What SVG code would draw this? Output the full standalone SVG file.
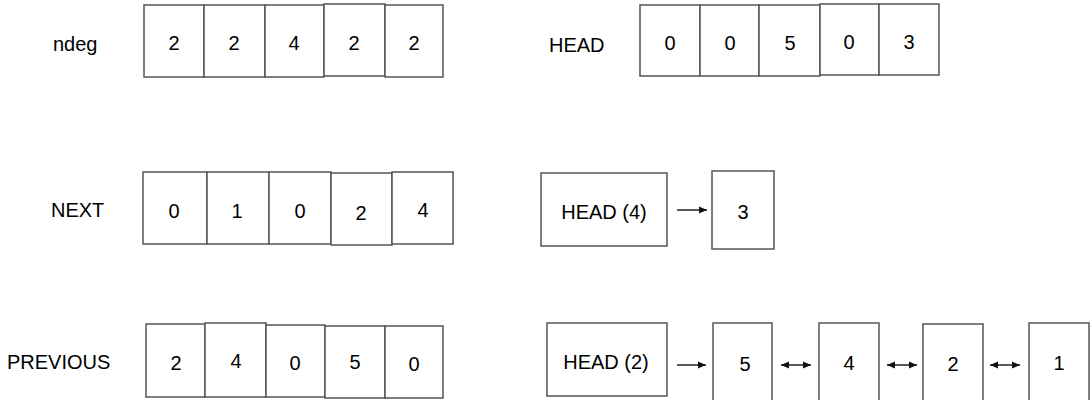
<svg xmlns="http://www.w3.org/2000/svg" width="1091" height="400" viewBox="0 0 1091 400">
<style>
.b{fill:#fff;stroke:#555;stroke-width:1.5}
.t{font-family:"Liberation Sans",Arial,sans-serif;font-size:20px;fill:#000;text-anchor:middle}
.l{font-family:"Liberation Sans",Arial,sans-serif;font-size:20px;fill:#000}
.a{stroke:#111;stroke-width:1.4;fill:none}
</style>
<defs>
<marker id="ah" markerWidth="9" markerHeight="9" refX="8" refY="4.5" orient="auto" markerUnits="userSpaceOnUse"><path d="M0,1 L8,4.5 L0,8 Z" fill="#111"/></marker>
<marker id="as" markerWidth="9" markerHeight="9" refX="1" refY="4.5" orient="auto" markerUnits="userSpaceOnUse"><path d="M9,1 L1,4.5 L9,8 Z" fill="#111"/></marker>
</defs>
<rect width="1091" height="400" fill="#fff"/>

<g id="ndeg">
<text class="l" x="53" y="51">ndeg</text>
<rect class="b" x="144" y="5" width="60" height="72"/><text class="t" x="174" y="50">2</text>
<rect class="b" x="204" y="5" width="61" height="72"/><text class="t" x="234" y="50">2</text>
<rect class="b" x="265" y="5" width="59" height="72"/><text class="t" x="294" y="50">4</text>
<rect class="b" x="324" y="4" width="61" height="72"/><text class="t" x="354" y="50">2</text>
<rect class="b" x="385" y="5" width="58" height="72"/><text class="t" x="414" y="50">2</text>
</g>

<g id="head">
<text class="l" x="549" y="52">HEAD</text>
<rect class="b" x="640" y="5" width="60" height="71"/><text class="t" x="670" y="50">0</text>
<rect class="b" x="700" y="5" width="59" height="71"/><text class="t" x="730" y="50">0</text>
<rect class="b" x="759" y="5" width="61" height="71"/><text class="t" x="790" y="50">5</text>
<rect class="b" x="820" y="4" width="59" height="71"/><text class="t" x="849" y="49">0</text>
<rect class="b" x="879" y="4" width="60" height="71"/><text class="t" x="909" y="49">3</text>
</g>

<g id="next">
<text class="l" x="51" y="217">NEXT</text>
<rect class="b" x="143" y="172" width="64" height="72"/><text class="t" x="174" y="218">0</text>
<rect class="b" x="207" y="172" width="62" height="72"/><text class="t" x="237" y="218">1</text>
<rect class="b" x="269" y="172" width="62" height="72"/><text class="t" x="300" y="218">0</text>
<rect class="b" x="331" y="173" width="61" height="72"/><text class="t" x="361" y="220">2</text>
<rect class="b" x="392" y="172" width="61" height="72"/><text class="t" x="423" y="217">4</text>
</g>

<g id="previous">
<text class="l" x="7" y="369">PREVIOUS</text>
<rect class="b" x="146" y="324" width="59" height="73"/><text class="t" x="176" y="370">2</text>
<rect class="b" x="205" y="323" width="61" height="74"/><text class="t" x="236" y="368">4</text>
<rect class="b" x="266" y="325" width="59" height="72"/><text class="t" x="295" y="370">0</text>
<rect class="b" x="325" y="326" width="60" height="72"/><text class="t" x="355" y="369">5</text>
<rect class="b" x="385" y="326" width="58" height="72"/><text class="t" x="414" y="371">0</text>
</g>

<g id="head4">
<rect class="b" x="541" y="173" width="126" height="73"/><text class="t" x="604" y="219">HEAD (4)</text>
</g>
<g id="n3">
<rect class="b" x="712" y="171" width="62" height="78"/><text class="t" x="743" y="219">3</text>
</g>

<g id="head2">
<rect class="b" x="547" y="323" width="120" height="73"/><text class="t" x="606" y="369">HEAD (2)</text>
</g>
<g id="n5"><rect class="b" x="713" y="323" width="59" height="90"/><text class="t" x="745" y="371">5</text></g>
<g id="n4"><rect class="b" x="819" y="323" width="60" height="90"/><text class="t" x="849" y="370">4</text></g>
<g id="n2"><rect class="b" x="923" y="324" width="60" height="90"/><text class="t" x="953" y="371">2</text></g>
<g id="n1"><rect class="b" x="1029" y="323" width="60" height="90"/><text class="t" x="1059" y="370">1</text></g>

<g id="connectors">
<line class="a" x1="677" y1="210" x2="707" y2="210" marker-end="url(#ah)"/>
<line class="a" x1="677" y1="365" x2="706" y2="365" marker-end="url(#ah)"/>
<line class="a" x1="781" y1="365" x2="811" y2="365" marker-start="url(#as)" marker-end="url(#ah)"/>
<line class="a" x1="887" y1="365" x2="917" y2="365" marker-start="url(#as)" marker-end="url(#ah)"/>
<line class="a" x1="990" y1="365" x2="1020" y2="365" marker-start="url(#as)" marker-end="url(#ah)"/>
</g>
</svg>
